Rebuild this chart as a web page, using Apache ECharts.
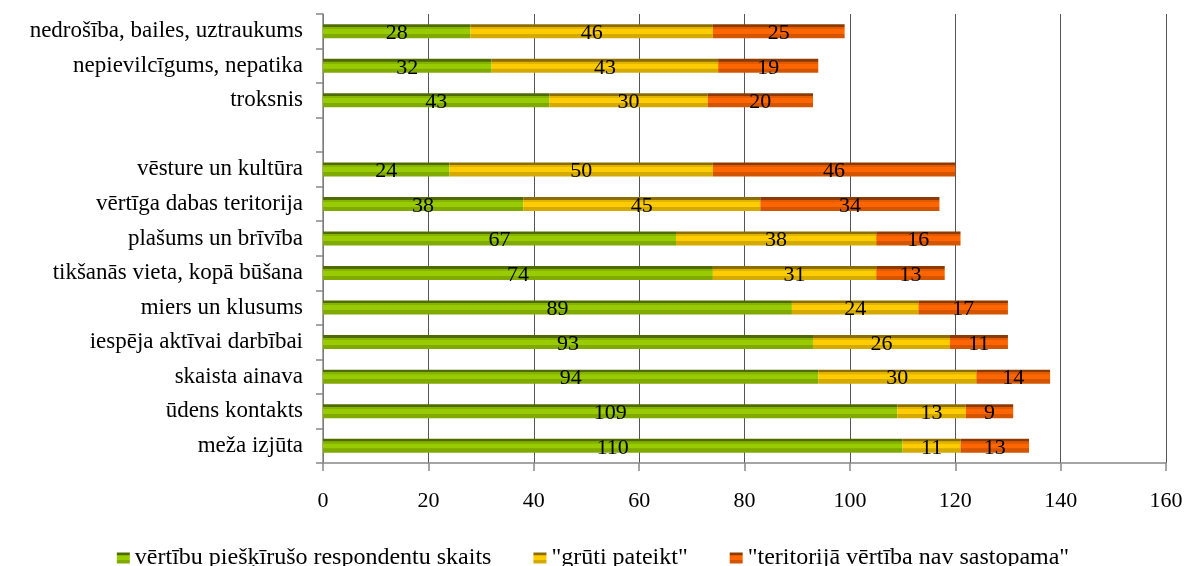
<!DOCTYPE html>
<html><head><meta charset="utf-8">
<script src="https://cdn.jsdelivr.net/npm/echarts@6/dist/echarts.min.js"></script>
<style>html,body{margin:0;padding:0;background:#fff}#c{width:1186px;height:566px}</style>
</head><body><div id="c"></div>
<script>
const categories = ['meža izjūta','ūdens kontakts','skaista ainava','iespēja aktīvai darbībai','miers un klusums','tikšanās vieta, kopā būšana','plašums un brīvība','vērtīga dabas teritorija','vēsture un kultūra','','troksnis','nepievilcīgums, nepatika','nedrošība, bailes, uztraukums'];
const valued = [110,109,94,93,89,74,67,38,24,null,43,32,28];
const hard = [11,13,30,26,24,31,38,45,50,null,30,43,46];
const absent = [13,9,14,11,17,13,16,34,46,null,20,19,25];
const seriesNames = ['vērtību piešķīrušo respondentu skaits','"grūti pateikt"','"teritorijā vērtība nav sastopama"'];
const xTicks = [0,20,40,60,80,100,120,140,160];

function grad(dark, soft, light, mid){
  return new echarts.graphic.LinearGradient(0,0,0,1,[
    {offset:0,color:dark},{offset:0.19,color:dark},
    {offset:0.2,color:soft},{offset:0.34,color:soft},
    {offset:0.35,color:light},{offset:0.69,color:light},
    {offset:0.7,color:mid},{offset:1,color:mid}]);
}
const colors = [
  grad('#4f6b00','#86b300','#99cc00','#80aa00'),
  grad('#8c6d00','#e0b400','#ffcc00','#d4aa00'),
  grad('#8c3a00','#e05a00','#ff6600','#d45500')];
const font = 'Liberation Serif';
const chart = echarts.init(document.getElementById('c'));
const mk = (name, data, i) => ({
  name, type:'bar', stack:'a', data, barWidth:14,
  itemStyle:{color:colors[i]},
  label:{show:true, position:'inside', color:'#000', fontFamily:font, fontSize:22, offset:[0,2],
    formatter:p=>p.value==null?'':p.value}
});
chart.setOption({
  animation:false,
  textStyle:{fontFamily:font},
  grid:{left:323,right:20,top:14,bottom:103},
  legend:{top:541,left:'center',itemWidth:13,itemHeight:11,itemGap:42,
    textStyle:{fontFamily:font,fontSize:24,color:'#000'},
    data:seriesNames.map(n=>({name:n,icon:'rect'}))},
  xAxis:{type:'value',min:0,max:160,interval:20,
    axisLine:{show:true,lineStyle:{color:'#888',width:1.5}},
    axisTick:{show:true,length:8,inside:false,lineStyle:{color:'#888',width:1.5}},
    splitLine:{show:true,lineStyle:{color:'#555',width:1}},
    axisLabel:{fontFamily:font,fontSize:22,color:'#000',margin:27,
      formatter:v=>xTicks.includes(v)?String(v):''}},
  yAxis:{type:'category',data:categories,
    axisLine:{show:true,lineStyle:{color:'#888',width:1.5}},
    axisTick:{show:true,length:7,lineStyle:{color:'#888',width:1.5}},
    axisLabel:{fontFamily:font,fontSize:23,color:'#000',margin:20}},
  series:[mk(seriesNames[0],valued,0),mk(seriesNames[1],hard,1),mk(seriesNames[2],absent,2)]
});
</script></body></html>
